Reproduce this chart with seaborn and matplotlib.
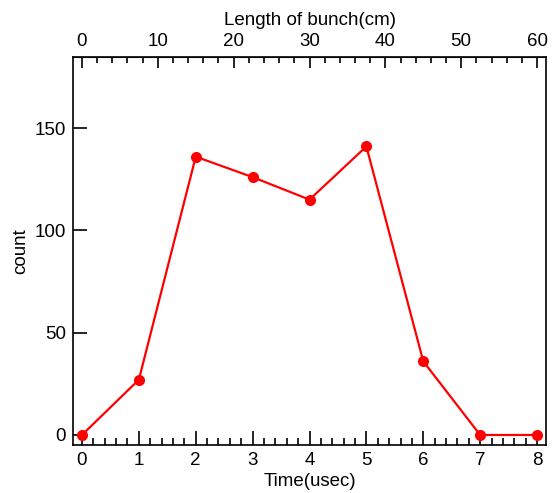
import matplotlib
matplotlib.use("Agg")
import matplotlib.pyplot as plt
import seaborn as sns
import pandas as pd
from matplotlib.ticker import MultipleLocator

time_usec = [0, 1, 2, 3, 4, 5, 6, 7, 8]
counts = [0, 27, 136, 126, 115, 141, 36, 0, 0]
top_ticks = [0, 10, 20, 30, 40, 50, 60]

sns.set_style("ticks")
plt.rcParams['font.family'] = ['Liberation Sans', 'DejaVu Sans']
plt.rcParams['text.color'] = 'black'
plt.rcParams['axes.labelcolor'] = 'black'
plt.rcParams['xtick.color'] = 'black'
plt.rcParams['ytick.color'] = 'black'

FS = 13.5
df = pd.DataFrame({"Time(usec)": time_usec, "count": counts})

fig = plt.figure(figsize=(5.52, 4.93), dpi=100)
ax = fig.add_axes([73/552, 48/493, 473/552, 388/493])
sns.lineplot(data=df, x="Time(usec)", y="count", ax=ax, color="#ff0000",
             marker="o", markersize=8, markeredgewidth=0, linewidth=1.6, clip_on=False)

ax.set_xlim(-0.158, 8.158)
ax.set_ylim(-4.9, 184.7)
ax.xaxis.set_major_locator(MultipleLocator(1))
ax.xaxis.set_minor_locator(MultipleLocator(0.2))
ax.yaxis.set_major_locator(MultipleLocator(50))
ax.tick_params(axis='x', which='major', direction='in', length=10, width=1.2, labelsize=FS, pad=5)
ax.tick_params(axis='x', which='minor', direction='in', length=5, width=1.2)
ax.tick_params(axis='y', which='major', direction='in', length=10, width=1.2, labelsize=FS, pad=5)
ax.set_xlabel("Time(usec)", fontsize=FS, labelpad=3)
ax.set_ylabel("count", fontsize=FS, labelpad=4)
for s in ax.spines.values():
    s.set_linewidth(1.2)
    s.set_color('black')
    s.set_visible(True)

sec = ax.secondary_xaxis('top', functions=(lambda x: x * 7.5, lambda x: x / 7.5))
sec.set_xticks(top_ticks)
sec.xaxis.set_minor_locator(MultipleLocator(2))
sec.tick_params(axis='x', which='major', direction='in', length=8, width=1.2, labelsize=FS, pad=5)
sec.tick_params(axis='x', which='minor', direction='in', length=4, width=1.2)
sec.set_xlabel("Length of bunch(cm)", fontsize=FS, labelpad=6)

fig.savefig("out.png", dpi=100)
